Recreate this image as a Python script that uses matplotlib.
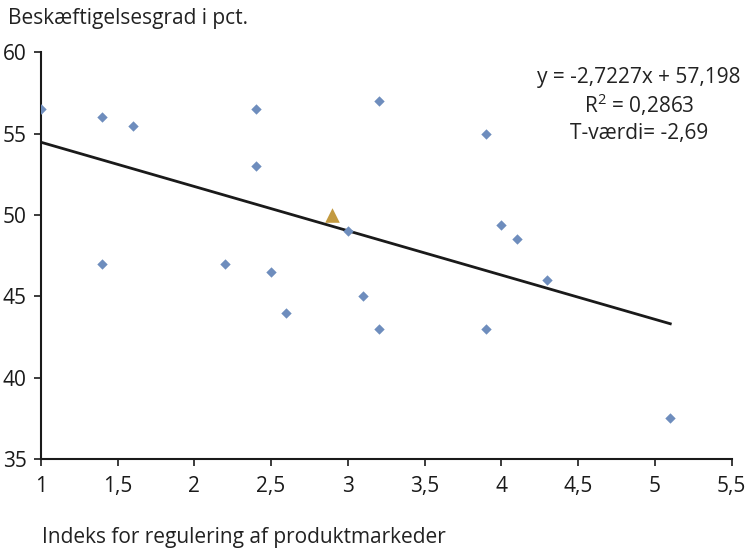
import matplotlib.pyplot as plt
from matplotlib.ticker import FuncFormatter

plt.rcParams['font.family'] = ['Open Sans', 'DejaVu Sans']

# data
regulering = [1.0, 1.4, 1.6, 2.4, 2.4, 3.2, 3.9, 1.4, 2.2, 2.5, 2.6, 3.0,
              3.1, 3.2, 3.9, 4.0, 4.1, 4.3, 5.1]
beskaeftigelse = [56.5, 56.0, 55.5, 56.5, 53.0, 57.0, 55.0, 47.0, 47.0, 46.5,
                  44.0, 49.0, 45.0, 43.0, 43.0, 49.4, 48.5, 46.0, 37.5]
dk_x = [2.9]
dk_y = [50.0]
haeldning = -2.7227
skaering = 57.198
linje_x = [1.0, 5.1]

fig = plt.figure(figsize=(7.5, 5.5), dpi=100)
ax = fig.add_axes([0.0543, 0.1655, 0.9213, 0.7394])

ax.scatter(regulering, beskaeftigelse, marker='D', s=28, color='#6e8dbd',
           zorder=3, linewidths=0)
ax.scatter(dk_x, dk_y, marker='^', s=110, color='#c39a40', zorder=4,
           linewidths=0)
ax.plot(linje_x, [haeldning * v + skaering for v in linje_x],
        color='#1a1a1a', lw=2, zorder=2)

ax.set_xlim(1, 5.5)
ax.set_ylim(35, 60)
ax.set_xticks([1, 1.5, 2, 2.5, 3, 3.5, 4, 4.5, 5, 5.5])
ax.set_yticks([35, 40, 45, 50, 55, 60])
fmt = FuncFormatter(lambda v, p: ('%g' % v).replace('.', ','))
ax.xaxis.set_major_formatter(fmt)
ax.yaxis.set_major_formatter(fmt)
ax.tick_params(labelsize=15, length=5, width=1.2, colors='#1a1a1a', pad=7)
ax.tick_params(axis='y', pad=5)
for s in ['top', 'right']:
    ax.spines[s].set_visible(False)
for s in ['left', 'bottom']:
    ax.spines[s].set_linewidth(1.5)
    ax.spines[s].set_color('#1a1a1a')

fig.text(0.011, 0.967, 'Beskæftigelsesgrad i pct.', fontsize=15,
         color='#222222', va='center')
fig.text(0.056, 0.022, 'Indeks for regulering af produktmarkeder',
         fontsize=15, color='#222222', va='center')

stat_linjer = ['y = -2,7227x + 57,198', '$\\mathregular{R^2}$ = 0,2863',
               'T-værdi= -2,69']
for i, t in enumerate(stat_linjer):
    fig.text(0.852, 1 - (77 + 28 * i) / 550, t, fontsize=15,
             color='#222222', ha='center', va='center')

fig.savefig('out.png')
